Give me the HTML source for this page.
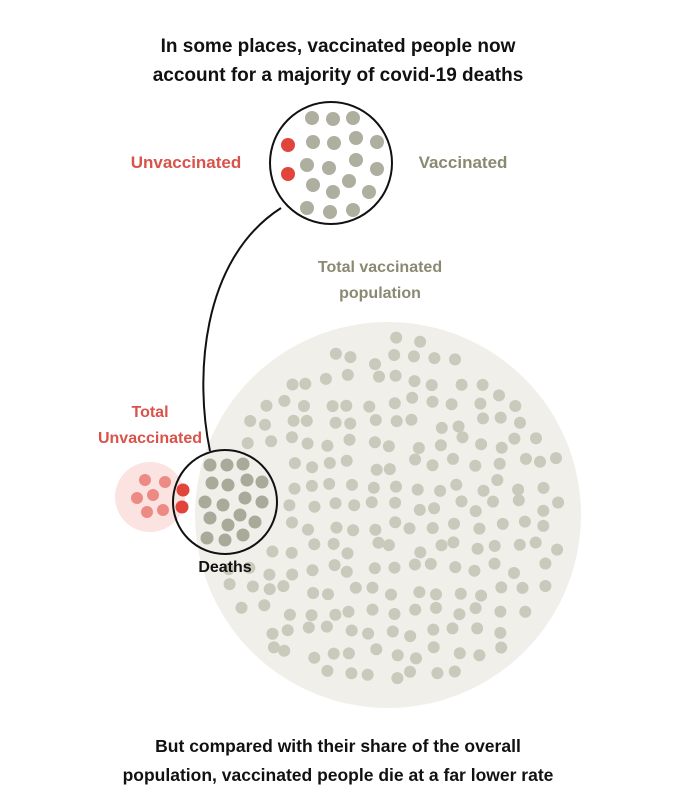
<!DOCTYPE html>
<html><head><meta charset="utf-8"><style>
html,body{margin:0;padding:0;background:#fff;}
svg{display:block;}
text{font-family:"Liberation Sans","DejaVu Sans",sans-serif;}
</style></head><body>
<svg id="s" width="676" height="810" viewBox="0 0 676 810" xmlns="http://www.w3.org/2000/svg">
<text x="338" y="52" text-anchor="middle" font-size="19" font-weight="bold" fill="#111">In some places, vaccinated people now</text>
<text x="338" y="81" text-anchor="middle" font-size="19" font-weight="bold" fill="#111">account for a majority of covid-19 deaths</text>
<text x="186" y="168" text-anchor="middle" font-size="17" font-weight="bold" fill="#d9534a">Unvaccinated</text>
<text x="463" y="168" text-anchor="middle" font-size="17" font-weight="bold" fill="#8a8a72">Vaccinated</text>
<text x="380" y="272" text-anchor="middle" font-size="16" font-weight="bold" fill="#8a8a72">Total vaccinated</text>
<text x="380" y="298" text-anchor="middle" font-size="16" font-weight="bold" fill="#8a8a72">population</text>
<text x="150" y="417" text-anchor="middle" font-size="16" font-weight="bold" fill="#d9534a">Total</text>
<text x="150" y="443" text-anchor="middle" font-size="16" font-weight="bold" fill="#d9534a">Unvaccinated</text>
<circle cx="388" cy="515" r="193" fill="#f0efea"/>
<circle cx="150" cy="497" r="35" fill="#fbe3e1"/>
<g id="big" fill="#c9cabc"></g>
<g fill="#ee8a84">
<circle cx="145" cy="480" r="6"/><circle cx="165" cy="482" r="6"/><circle cx="137" cy="498" r="6"/><circle cx="153" cy="495" r="6"/><circle cx="147" cy="512" r="6"/><circle cx="163" cy="510" r="6"/>
</g>
<circle cx="225" cy="502" r="52" fill="none" stroke="#111" stroke-width="2"/>
<g fill="#e0443b"><circle cx="183" cy="490" r="6.5"/><circle cx="182" cy="507" r="6.5"/></g>
<g fill="#a9aa9a">
<circle cx="210" cy="465" r="6.5"/><circle cx="227" cy="465" r="6.5"/><circle cx="243" cy="464" r="6.5"/>
<circle cx="212" cy="483" r="6.5"/><circle cx="228" cy="485" r="6.5"/><circle cx="247" cy="480" r="6.5"/><circle cx="262" cy="482" r="6.5"/>
<circle cx="205" cy="502" r="6.5"/><circle cx="223" cy="505" r="6.5"/><circle cx="245" cy="498" r="6.5"/><circle cx="262" cy="502" r="6.5"/>
<circle cx="210" cy="518" r="6.5"/><circle cx="228" cy="525" r="6.5"/><circle cx="240" cy="515" r="6.5"/><circle cx="255" cy="522" r="6.5"/>
<circle cx="207" cy="538" r="6.5"/><circle cx="225" cy="540" r="6.5"/><circle cx="243" cy="535" r="6.5"/>
</g>
<text x="225" y="572" text-anchor="middle" font-size="16" font-weight="bold" fill="#111">Deaths</text>
<path d="M281,208 C200,260 195,380 210,451" fill="none" stroke="#111" stroke-width="2"/>
<circle cx="331" cy="163" r="61" fill="#fff" stroke="#111" stroke-width="2"/>
<g fill="#e0443b"><circle cx="288" cy="145" r="7"/><circle cx="288" cy="174" r="7"/></g>
<g fill="#aeaf9f">
<circle cx="312" cy="118" r="7"/><circle cx="333" cy="119" r="7"/><circle cx="353" cy="118" r="7"/>
<circle cx="313" cy="142" r="7"/><circle cx="334" cy="143" r="7"/><circle cx="356" cy="138" r="7"/><circle cx="377" cy="142" r="7"/>
<circle cx="307" cy="165" r="7"/><circle cx="329" cy="168" r="7"/><circle cx="356" cy="160" r="7"/><circle cx="377" cy="169" r="7"/>
<circle cx="313" cy="185" r="7"/><circle cx="333" cy="192" r="7"/><circle cx="349" cy="181" r="7"/><circle cx="369" cy="192" r="7"/>
<circle cx="307" cy="208" r="7"/><circle cx="330" cy="212" r="7"/><circle cx="353" cy="210" r="7"/>
</g>
<text x="338" y="752" text-anchor="middle" font-size="17.5" font-weight="bold" fill="#111">But compared with their share of the overall</text>
<text x="338" y="781" text-anchor="middle" font-size="17.5" font-weight="bold" fill="#111">population, vaccinated people die at a far lower rate</text>
</svg>
<script>
(function(){
var g=document.getElementById('big');var seed=7;
function r(){seed=(seed*16807)%2147483647;return seed/2147483647;}
var out='';
for(var y=338;y<700;y+=21){for(var x=205;x<580;x+=21){
var px=x+(r()-0.5)*12,py=y+(r()-0.5)*12;
var dx=px-388,dy=py-515;if(dx*dx+dy*dy>178*178)continue;
var ex=px-225,ey=py-502;if(ex*ex+ey*ey<60*60)continue;
out+='<circle cx="'+px.toFixed(1)+'" cy="'+py.toFixed(1)+'" r="6"/>';}}
g.innerHTML=out;})();
</script>
</body></html>
